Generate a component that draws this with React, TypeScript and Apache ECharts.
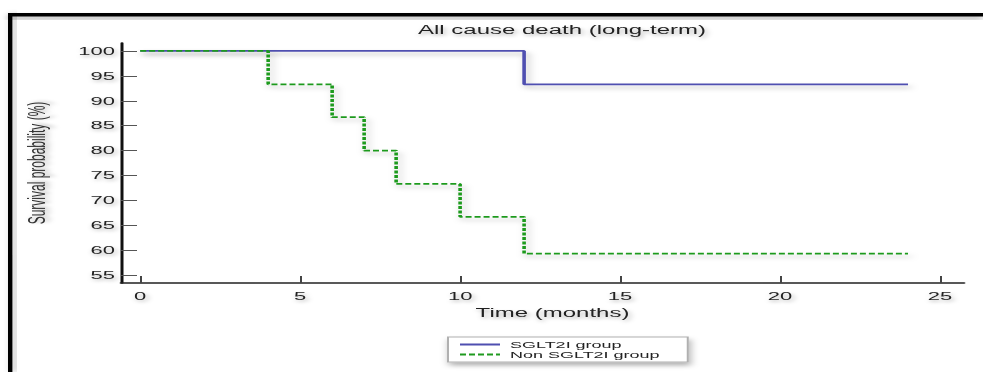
import React, { useEffect, useRef } from "react";
import * as echarts from "echarts";

const titleText = "All cause death (long-term)";
const xAxisName = "Time (months)";
const yAxisName = "Survival probability (%)";

const seriesNames = ["SGLT2I group", "Non SGLT2I group"];
const sgltTimes = [0, 12, 24];
const sgltSurvival = [100, 93.3, 93.3];
const nonSgltTimes = [0, 4, 6, 7, 8, 10, 12, 24];
const nonSgltSurvival = [100, 93.3, 86.7, 80, 73.3, 66.7, 59.3, 59.3];

const xTicks = [0, 5, 10, 15, 20, 25];
const yTicks = [55, 60, 65, 70, 75, 80, 85, 90, 95, 100];

const FONT = "'Liberation Sans', Arial, sans-serif";
const W = 491.5;
const H = 372;

const textShadow = {
  textShadowColor: "rgba(0,0,0,0.3)",
  textShadowBlur: 3,
  textShadowOffsetX: 1,
  textShadowOffsetY: 2,
};
const lineShadow = {
  shadowColor: "rgba(0,0,0,0.25)",
  shadowBlur: 4,
  shadowOffsetX: 1.5,
  shadowOffsetY: 3,
};

export default function App() {
  const ref = useRef<HTMLDivElement>(null);
  useEffect(() => {
    if (!ref.current) return;
    const chart = echarts.init(ref.current, null, { renderer: "svg", width: W, height: H });
    const pair = (t: number[], v: number[]) => t.map((x, i) => [x, v[i]]);
    chart.setOption({
      animation: false,
      backgroundColor: "#ffffff",
      title: {
        text: titleText,
        left: 209,
        top: 24,
        padding: 0,
        textStyle: { fontFamily: FONT, fontSize: 12, fontWeight: "normal", color: "#222", ...textShadow },
      },
      legend: {
        orient: "vertical",
        left: 224,
        top: 337,
        padding: [3, 14, 3, 5],
        itemGap: 1,
        itemWidth: 20,
        itemHeight: 8,
        itemStyle: { opacity: 0 },
        backgroundColor: "#ffffff",
        borderColor: "#b0b0b0",
        borderWidth: 1,
        shadowColor: "rgba(0,0,0,0.3)",
        shadowBlur: 4,
        shadowOffsetX: 1,
        shadowOffsetY: 3,
        textStyle: { fontFamily: FONT, fontSize: 9, color: "#222" },
        data: seriesNames,
      },
      grid: { left: 60.5, right: W - 482, top: 43, bottom: H - 283, containLabel: false },
      xAxis: {
        type: "value",
        min: -0.6,
        max: 25.75,
        name: xAxisName,
        nameLocation: "middle",
        nameGap: 22,
        nameTextStyle: { fontFamily: FONT, fontSize: 12, color: "#222", padding: [0, 0, 0, 10], ...textShadow },
        axisLine: { show: true, onZero: false, lineStyle: { color: "#222", width: 1.5 } },
        axisTick: { show: true, inside: true, length: 7, customValues: xTicks, lineStyle: { color: "#444", width: 1 } },
        axisLabel: { customValues: xTicks, margin: 8, fontFamily: FONT, fontSize: 11, color: "#222", ...textShadow },
        splitLine: { show: false },
      },
      yAxis: {
        type: "value",
        min: 53.4,
        max: 101.6,
        name: yAxisName,
        nameLocation: "middle",
        nameRotate: 90,
        nameGap: 36,
        nameTextStyle: { fontFamily: FONT, fontSize: 12, color: "#333", ...textShadow },
        axisLine: { show: true, onZero: false, lineStyle: { color: "#111", width: 1.5 } },
        axisTick: { show: true, inside: true, length: 8, customValues: yTicks, lineStyle: { color: "#555", width: 1 } },
        axisLabel: { customValues: yTicks, margin: 3, fontFamily: FONT, fontSize: 11, color: "#222", ...textShadow },
        splitLine: { show: false },
      },
      graphic: [
        {
          type: "rect",
          shape: { x: 4, y: 13, width: W - 4, height: 3.5 },
          style: { fill: "#000", shadowColor: "rgba(0,0,0,0.3)", shadowBlur: 4, shadowOffsetY: 3 },
          z: 10,
        },
        {
          type: "rect",
          shape: { x: 4, y: 13, width: 2.2, height: H - 13 },
          style: { fill: "#000", shadowColor: "rgba(0,0,0,0.3)", shadowBlur: 4, shadowOffsetX: 2 },
          z: 10,
        },
      ],
      series: [
        {
          name: seriesNames[0],
          type: "line",
          step: "end",
          symbol: "none",
          color: "#4f4fb0",
          lineStyle: { color: "#4f4fb0", width: 1.8, ...lineShadow },
          data: pair(sgltTimes, sgltSurvival),
          z: 3,
        },
        {
          name: seriesNames[1],
          type: "line",
          step: "end",
          symbol: "none",
          color: "#1f9a1f",
          lineStyle: { color: "#1f9a1f", width: 1.8, type: [3, 1.5], ...lineShadow },
          data: pair(nonSgltTimes, nonSgltSurvival),
          z: 4,
        },
      ],
    });
    return () => chart.dispose();
  }, []);
  return (
    <div
      ref={ref}
      style={{
        position: "absolute",
        left: 0,
        top: 0,
        width: W,
        height: H,
        transform: "scaleX(2)",
        transformOrigin: "0 0",
      }}
    />
  );
}
